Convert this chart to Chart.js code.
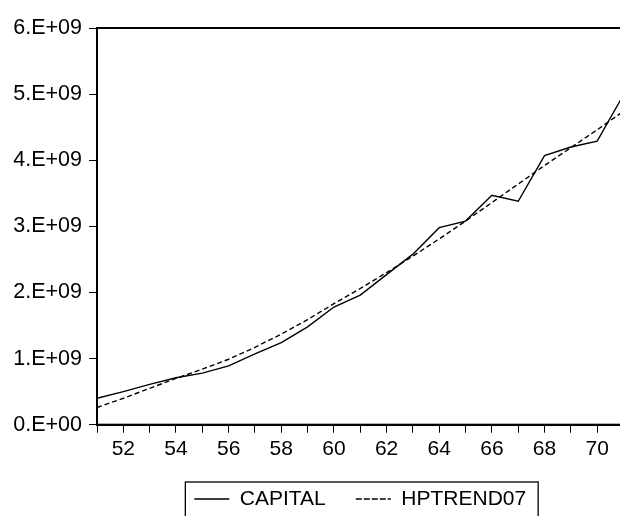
<!DOCTYPE html>
<html>
<head>
<meta charset="utf-8">
<title>CAPITAL and HP trend</title>
<script src="https://cdn.jsdelivr.net/npm/chart.js@4"></script>
<style>
  html, body { margin: 0; padding: 0; background: #fff; overflow: hidden; }
  #wrap { width: 620px; height: 516px; overflow: hidden; }
</style>
</head>
<body>
<div id="wrap"><canvas id="c" width="627" height="526"></canvas></div>
<script>
// Years (19xx) of the annual series
const years = [51, 52, 53, 54, 55, 56, 57, 58, 59, 60, 61, 62, 63, 64, 65, 66, 67, 68, 69, 70, 71];

// Capital stock, billions
const capital = [0.40, 0.50, 0.61, 0.71, 0.78, 0.89, 1.07, 1.24, 1.48, 1.78, 1.96,
                 2.27, 2.58, 2.98, 3.08, 3.47, 3.38, 4.07, 4.20, 4.29, 4.99];

// Hodrick-Prescott trend of capital, billions
const hpTrend = [0.26, 0.40, 0.55, 0.70, 0.84, 0.99, 1.17, 1.37, 1.59, 1.83, 2.06,
                 2.30, 2.55, 2.81, 3.08, 3.36, 3.64, 3.92, 4.19, 4.46, 4.74];

// Value-axis tick labels, one per billion
const yTickLabels = ['0.E+00', '1.E+09', '2.E+09', '3.E+09', '4.E+09', '5.E+09', '6.E+09'];

const SCALE = 1e9;
const FONT = { family: "'Liberation Sans', Arial, sans-serif", size: 21 };

const toPoints = vals => years.map((yr, i) => ({ x: yr, y: vals[i] * SCALE }));

// Frame on the plot area and a box around the legend
const framePlugin = {
  id: 'frame',
  afterDraw(chart) {
    const { ctx, chartArea: a } = chart;
    ctx.save();
    ctx.strokeStyle = '#000';
    ctx.lineWidth = 2;
    ctx.strokeRect(a.left, a.top, a.right - a.left, a.bottom - a.top);
    const hb = chart.legend && chart.legend.legendHitBoxes;
    if (hb && hb.length) {
      const last = hb[hb.length - 1];
      const left = hb[0].left - 9;
      const right = last.left + last.width + 12;
      const top = hb[0].top - 6.5;
      const bottom = hb[0].top + hb[0].height + 20;
      ctx.lineWidth = 1.3;
      ctx.strokeRect(left, top, right - left, bottom - top);
    }
    ctx.restore();
  }
};

new Chart(document.getElementById('c'), {
  type: 'line',
  data: {
    datasets: [
      {
        label: 'CAPITAL',
        data: toPoints(capital),
        borderColor: '#000',
        backgroundColor: 'rgba(0,0,0,0)',
        borderWidth: 1.4,
        pointRadius: 0,
        tension: 0
      },
      {
        label: 'HPTREND07',
        data: toPoints(hpTrend),
        borderColor: '#000',
        backgroundColor: 'rgba(0,0,0,0)',
        borderWidth: 1.4,
        borderDash: [5, 3],
        pointRadius: 0,
        tension: 0
      }
    ]
  },
  options: {
    responsive: false,
    animation: false,
    events: [],
    layout: { padding: { left: 0, right: 2, top: 28, bottom: 6.5 } },
    plugins: {
      tooltip: { enabled: false },
      legend: {
        position: 'bottom',
        fullSize: false,
        labels: {
          color: '#000',
          font: FONT,
          boxWidth: 35,
          boxHeight: 0,
          padding: 30
        }
      }
    },
    scales: {
      x: {
        type: 'linear',
        min: years[0],
        max: years[years.length - 1],
        afterFit(scale) { scale.height = 33.8; },
        border: { display: true, color: '#000', width: 2 },
        grid: { drawOnChartArea: false, drawTicks: true, tickLength: 8, color: '#000', lineWidth: 1 },
        ticks: {
          stepSize: 1,
          autoSkip: false,
          maxRotation: 0,
          padding: 3.5,
          color: '#000',
          font: FONT,
          callback: v => (v % 2 === 0 ? String(v) : '')
        }
      },
      y: {
        min: 0,
        max: 6 * SCALE,
        afterFit(scale) { scale.width = 97; },
        border: { display: true, color: '#000', width: 2 },
        grid: { drawOnChartArea: false, drawTicks: true, tickLength: 8, color: '#000', lineWidth: 1 },
        ticks: {
          stepSize: SCALE,
          padding: 7,
          color: '#000',
          font: { family: FONT.family, size: 21.5 },
          callback: v => yTickLabels[Math.round(v / SCALE)]
        }
      }
    }
  },
  plugins: [framePlugin]
});
</script>
</body>
</html>
